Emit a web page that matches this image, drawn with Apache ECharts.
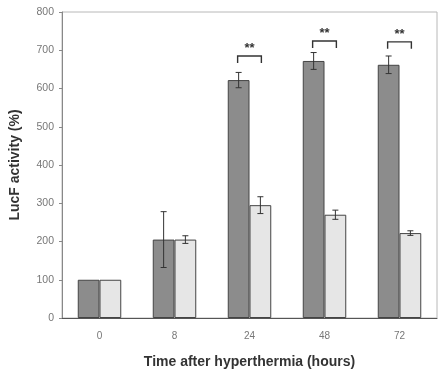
<!DOCTYPE html>
<html><head><meta charset="utf-8">
<script src="https://cdn.jsdelivr.net/npm/echarts@6/dist/echarts.min.js"></script>
<style>html,body{margin:0;padding:0;background:#fff}#c{width:440px;height:374px}</style>
</head><body><div id="c"></div>
<script>
const categories = ['0', '8', '24', '48', '72'];
const darkValues = [100, 205, 622, 672, 662];
const darkErrors = [0, 73, 20, 22, 23];
const lightValues = [100, 205, 295, 270, 222];
const lightErrors = [0, 10, 22, 12, 6];
const sigCategories = [2, 3, 4];
const sigLevels = [685, 724, 722];
const sigLabels = ['**', '**', '**'];
const yTicks = [0, 100, 200, 300, 400, 500, 600, 700, 800];

const BAR_FRAC = 0.29;
const chart = echarts.init(document.getElementById('c'), null, {renderer: 'canvas'});

function errSeries(values, errors, side) {
  return {
    type: 'custom',
    z: 5,
    data: values.map((v, i) => [i, v, errors[i]]),
    renderItem: function (params, api) {
      const i = api.value(0), v = api.value(1), e = api.value(2);
      if (!e) return null;
      const band = api.size([1, 0])[0];
      const off = side * band * BAR_FRAC / 2;
      const top = api.coord([i, v + e]);
      const bot = api.coord([i, v - e]);
      const x = top[0] + off;
      const cap = 3;
      const st = {stroke: '#333', lineWidth: 1};
      return {type: 'group', children: [
        {type: 'line', shape: {x1: x, y1: top[1], x2: x, y2: bot[1]}, style: st},
        {type: 'line', shape: {x1: x - cap, y1: top[1], x2: x + cap, y2: top[1]}, style: st},
        {type: 'line', shape: {x1: x - cap, y1: bot[1], x2: x + cap, y2: bot[1]}, style: st}
      ]};
    }
  };
}

chart.setOption({
  animation: false,
  grid: {left: 60, right: 3, top: 12, bottom: 56, show: true, borderColor: '#b8b8b8', borderWidth: 1},
  xAxis: {
    type: 'category', data: categories,
    axisLine: {lineStyle: {color: '#555'}},
    axisTick: {show: false},
    axisLabel: {color: '#777', fontSize: 10, margin: 13, fontFamily: 'Liberation Sans'},
    name: 'Time after hyperthermia (hours)', nameLocation: 'middle', nameGap: 37,
    nameTextStyle: {color: '#333', fontSize: 14, fontWeight: 'bold', fontFamily: 'Liberation Sans'}
  },
  yAxis: {
    type: 'value', min: 0, max: 800, interval: 100,
    axisLine: {show: true, lineStyle: {color: '#888'}},
    axisTick: {show: true, length: 3, lineStyle: {color: '#888'}},
    splitLine: {show: false},
    axisLabel: {color: '#777', fontSize: 10.5, margin: 8, fontFamily: 'Liberation Sans',
      formatter: v => yTicks.includes(v) ? String(v) : ''},
    name: 'LucF activity (%)', nameLocation: 'middle', nameGap: 40,
    nameTextStyle: {color: '#333', fontSize: 14, fontWeight: 'bold', fontFamily: 'Liberation Sans'}
  },
  series: [
    {type: 'bar', data: darkValues, barWidth: '29%', barGap: '0%',
      itemStyle: {color: '#8c8c8c', borderColor: '#444', borderWidth: 1}},
    {type: 'bar', data: lightValues, barWidth: '29%', barGap: '0%',
      itemStyle: {color: '#e6e6e6', borderColor: '#444', borderWidth: 1}},
    errSeries(darkValues, darkErrors, -1),
    errSeries(lightValues, lightErrors, 1),
    {
      type: 'custom', z: 6,
      data: sigCategories.map((c, k) => [c, sigLevels[k], sigLabels[k]]),
      renderItem: function (params, api) {
        const c = api.value(0), lvl = api.value(1);
        const band = api.size([1, 0])[0];
        const p = api.coord([c, lvl]);
        const half = band * BAR_FRAC / 2 + 1;
        const drop = 7;
        const st = {stroke: '#333', lineWidth: 1.4, fill: null};
        return {type: 'group', children: [
          {type: 'polyline', shape: {points: [[p[0] - half, p[1] + drop], [p[0] - half, p[1]], [p[0] + half, p[1]], [p[0] + half, p[1] + drop]]}, style: st},
          {type: 'text', x: p[0], y: p[1] - 1, style: {text: sigLabels[params.dataIndex], fill: '#333', font: 'bold 13px Liberation Sans', textAlign: 'center', textVerticalAlign: 'bottom'}}
        ]};
      }
    }
  ]
});
</script></body></html>
